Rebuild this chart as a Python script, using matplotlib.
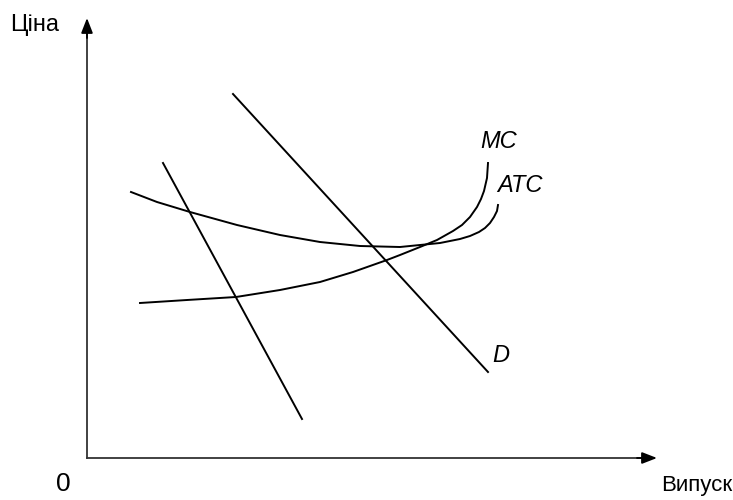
import numpy as np
import matplotlib.pyplot as plt

plt.rcParams['font.family'] = ['Liberation Sans', 'DejaVu Sans']

# curve points (x = output, y = price), units measured from the origin
steep_x = [76, 215]
steep_y = [295, 39]

d_x = [146, 401]
d_y = [364, 86]

mc_x = [53, 100, 149, 193, 233, 266, 300, 313, 333, 350, 366, 375, 383, 390, 394, 397, 400, 401]
mc_y = [155, 158, 161, 168, 176, 186, 198, 203, 211, 218, 227, 233, 241, 251, 259, 267, 280, 295]

atc_x = [44, 70, 103, 150, 193, 233, 273, 313, 333, 353, 373, 383, 392, 398, 403, 407, 410, 411]
atc_y = [266, 256, 246, 233, 223, 216, 212, 211, 213, 215, 219, 222, 226, 230, 235, 241, 247, 253]

labels = ['MC', 'ATC', 'D']

fig = plt.figure(figsize=(7.33, 5.0), dpi=100)
ax = fig.add_axes([0, 0, 1, 1])
ax.set_xlim(-87, 646)
ax.set_ylim(-42, 458)
ax.axis('off')

# axes with arrows
ax.plot([0, 0], [0, 428], color='#333333', lw=1.3)
ax.plot([0, 560], [0, 0], color='#333333', lw=1.3)
arrow = dict(arrowstyle='-|>,head_length=0.9,head_width=0.35', color='black', lw=1.3,
             shrinkA=0, shrinkB=0)
ax.annotate('', xy=(0, 440), xytext=(0, 420), arrowprops=arrow)
ax.annotate('', xy=(570, 0), xytext=(550, 0), arrowprops=arrow)

ax.plot(steep_x, steep_y, color='black', lw=1.4)
ax.plot(d_x, d_y, color='black', lw=1.4)
ax.plot(mc_x, mc_y, color='black', lw=1.4, solid_joinstyle='round')
ax.plot(atc_x, atc_y, color='black', lw=1.4, solid_joinstyle='round')

ax.text(412, 316, labels[0], fontsize=17, style='italic', ha='center', va='center')
ax.text(433, 272, labels[1], fontsize=17, style='italic', ha='center', va='center')
ax.text(414, 102, labels[2], fontsize=17, style='italic', ha='center', va='center')

ax.text(-52, 433, 'Ціна', fontsize=17, ha='center', va='center')
ax.text(645, -28, 'Випуск', fontsize=16, ha='right', va='center')
ax.text(-24, -26, '0', fontsize=19, ha='center', va='center')

fig.savefig('out.png', dpi=100)
